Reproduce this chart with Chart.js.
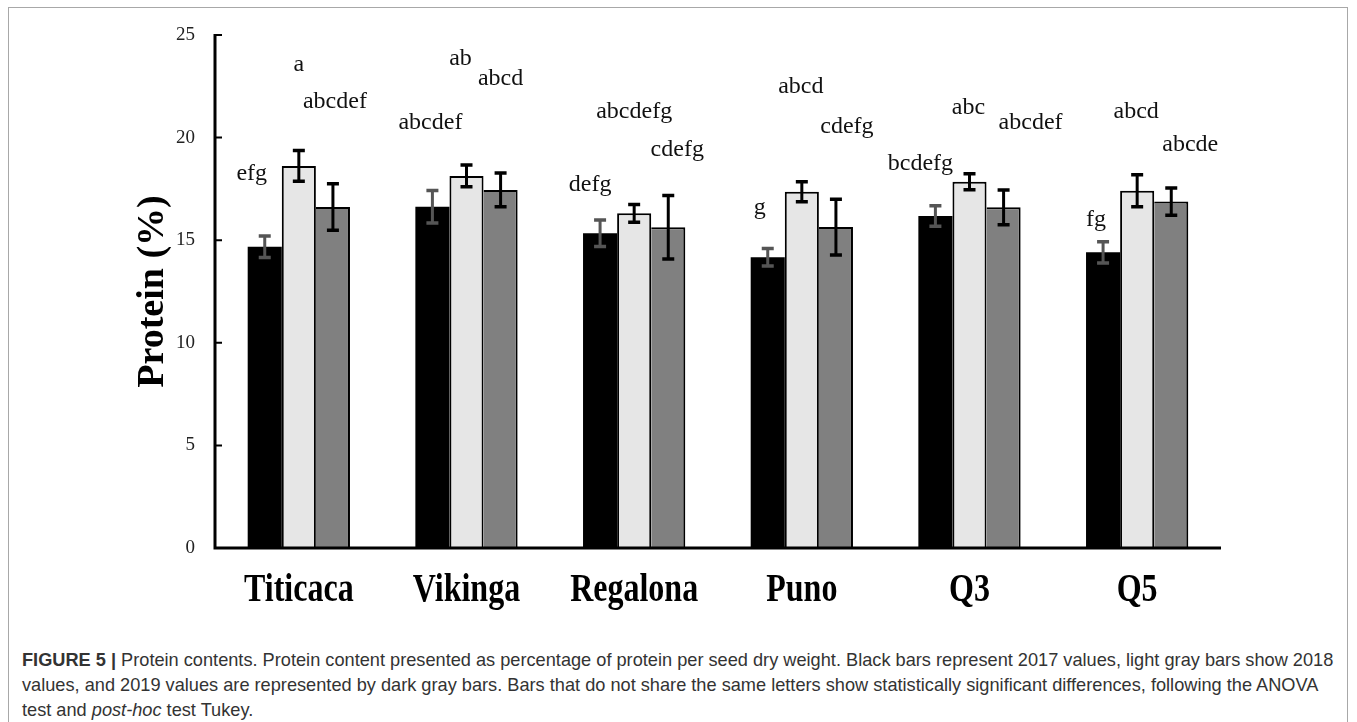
<!DOCTYPE html>
<html>
<head>
<meta charset="utf-8">
<script src="https://cdn.jsdelivr.net/npm/chart.js@4.4.1/dist/chart.umd.min.js"></script>
<style>
  html, body { margin: 0; padding: 0; background: #fff; }
  body { width: 1357px; height: 722px; position: relative; overflow: hidden; }
  #frame { position: absolute; left: 8px; top: 7px; width: 1340px; height: 740px; border: 1px solid #a8a8a8; box-sizing: border-box; }
  #chartWrap { position: absolute; left: 0; top: 0; width: 1357px; height: 630px; }
  #caption { position: absolute; left: 22px; top: 648px; font-family: "Liberation Sans", Arial, sans-serif; color: #333; line-height: 25px; }
  #caption div { white-space: nowrap; }
</style>
</head>
<body>
<div id="frame"></div>
<div id="chartWrap"><canvas id="c" width="1357" height="630"></canvas></div>
<div id="caption">
  <div id="cap1"><b>FIGURE 5 |</b> Protein contents. Protein content presented as percentage of protein per seed dry weight. Black bars represent 2017 values, light gray bars show 2018</div>
  <div>values, and 2019 values are represented by dark gray bars. Bars that do not share the same letters show statistically significant differences, following the ANOVA</div>
  <div>test and <i>post-hoc</i> test Tukey.</div>
</div>
<script>
// ---- data ----
const categories = ['Titicaca', 'Vikinga', 'Regalona', 'Puno', 'Q3', 'Q5'];
const yTicks = [0, 5, 10, 15, 20, 25];
const protein2017 = [14.68, 16.63, 15.34, 14.17, 16.18, 14.41];
const protein2018 = [18.62, 18.13, 16.31, 17.36, 17.85, 17.41];
const protein2019 = [16.62, 17.45, 15.63, 15.64, 16.60, 16.88];
const err2017 = [0.52, 0.79, 0.65, 0.43, 0.50, 0.52];
const err2018 = [0.75, 0.53, 0.43, 0.49, 0.39, 0.78];
const err2019 = [1.13, 0.82, 1.55, 1.36, 0.85, 0.66];
const letters2017 = ['efg', 'abcdef', 'defg', 'g', 'bcdefg', 'fg'];
const letters2018 = ['a', 'ab', 'abcdefg', 'abcd', 'abc', 'abcd'];
const letters2019 = ['abcdef', 'abcd', 'cdefg', 'cdefg', 'abcdef', 'abcde'];
const letterY2017 = [18.23, 20.71, 17.69, 16.57, 18.71, 15.98];
const letterY2018 = [23.54, 23.83, 21.25, 22.47, 21.44, 21.25];
const letterY2019 = [21.73, 22.86, 19.40, 20.52, 20.71, 19.64];

// ---- layout / style (not data) ----
const letterDx = [
  [-13, -2, -10, -8, -15, -7],
  [0, -6, 0, -1, -1, -1],
  [2, 0, 9, 11, 27, 19]
];
const errSets = [err2017, err2018, err2019];
const letterSets = [letters2017, letters2018, letters2019];
const letterYSets = [letterY2017, letterY2018, letterY2019];
const errColors = ['#555555', '#000000', '#000000'];
const SERIF = '"Liberation Serif", "Times New Roman", serif';

const overlay = {
  id: 'overlay',
  afterDatasetsDraw(chart) {
    const ctx = chart.ctx;
    const ys = chart.scales.y;
    const xs = chart.scales.x;
    const area = chart.chartArea;
    ctx.save();
    // error bars
    errSets.forEach((errs, di) => {
      const meta = chart.getDatasetMeta(di);
      meta.data.forEach((bar, i) => {
        const v = chart.data.datasets[di].data[i];
        const x = bar.x;
        const yT = ys.getPixelForValue(v + errs[i]);
        const yB = ys.getPixelForValue(v - errs[i]);
        ctx.strokeStyle = errColors[di];
        ctx.lineWidth = 3;
        ctx.beginPath();
        ctx.moveTo(x, yT); ctx.lineTo(x, yB);
        ctx.stroke();
        ctx.lineWidth = 3.5;
        ctx.beginPath();
        ctx.moveTo(x - 6, yT); ctx.lineTo(x + 6, yT);
        ctx.moveTo(x - 6, yB); ctx.lineTo(x + 6, yB);
        ctx.stroke();
      });
    });
    // letters
    ctx.fillStyle = '#111';
    ctx.font = '24px ' + SERIF;
    ctx.textAlign = 'center';
    ctx.textBaseline = 'middle';
    letterSets.forEach((letters, di) => {
      const meta = chart.getDatasetMeta(di);
      meta.data.forEach((bar, i) => {
        ctx.fillText(letters[i], bar.x + letterDx[di][i], ys.getPixelForValue(letterYSets[di][i]));
      });
    });
    // category labels (tall, condensed look)
    ctx.fillStyle = '#000';
    ctx.font = 'bold 32px ' + SERIF;
    ctx.textAlign = 'center';
    ctx.textBaseline = 'alphabetic';
    categories.forEach((c, i) => {
      ctx.save();
      ctx.translate(xs.getPixelForTick(i), area.bottom + 53);
      ctx.scale(1, 1.25);
      ctx.fillText(c, 0, 0);
      ctx.restore();
    });
    // axes
    ctx.strokeStyle = '#000';
    ctx.lineWidth = 3;
    const y0 = ys.getPixelForValue(0);
    const yMax = ys.getPixelForValue(25);
    ctx.beginPath();
    ctx.moveTo(area.left, yMax - 1); ctx.lineTo(area.left, y0);
    ctx.moveTo(area.left - 1.5, y0); ctx.lineTo(area.right, y0);
    ctx.stroke();
    ctx.lineWidth = 2;
    ctx.beginPath();
    yTicks.forEach(t => {
      const py = ys.getPixelForValue(t);
      ctx.moveTo(area.left, py); ctx.lineTo(area.left + 7, py);
    });
    ctx.stroke();
    ctx.restore();
  }
};

new Chart(document.getElementById('c'), {
  type: 'bar',
  data: {
    labels: categories,
    datasets: [
      { label: '2017', data: protein2017, backgroundColor: '#000000', borderColor: '#000000', borderWidth: 0 },
      { label: '2018', data: protein2018, backgroundColor: '#e6e6e6', borderColor: '#000000', borderWidth: { top: 2, left: 2, right: 2, bottom: 0 } },
      { label: '2019', data: protein2019, backgroundColor: '#808080', borderColor: '#000000', borderWidth: { top: 2, left: 0, right: 2, bottom: 0 } }
    ]
  },
  options: {
    responsive: false,
    devicePixelRatio: 1,
    animation: false,
    layout: { padding: { top: 35, right: 136, left: 0, bottom: 0 } },
    datasets: { bar: { categoryPercentage: 0.61, barPercentage: 1.0, borderSkipped: false } },
    plugins: { legend: { display: false }, tooltip: { enabled: false } },
    scales: {
      x: {
        grid: { display: false },
        border: { display: false },
        ticks: { display: false },
        afterFit: (s) => { s.height = 82; }
      },
      y: {
        min: 0, max: 25,
        afterBuildTicks: (s) => { s.ticks = yTicks.map(v => ({ value: v })); },
        grid: { display: false },
        border: { display: false },
        ticks: {
          color: '#222',
          padding: 12,
          font: { family: SERIF, size: 19 }
        },
        title: {
          display: true,
          text: 'Protein (%)',
          color: '#000',
          padding: { top: 130, bottom: 0 },
          font: { family: SERIF, size: 38, weight: 'bold' }
        },
        afterFit: (s) => { s.width = 215; }
      }
    }
  },
  plugins: [overlay]
});

// fit caption font so first line spans the reference width
(function () {
  const cap = document.getElementById('caption');
  const line1 = document.getElementById('cap1');
  let size = 16;
  cap.style.fontSize = size + 'px';
  const w = line1.getBoundingClientRect().width;
  size = size * 1312 / w;
  cap.style.fontSize = size.toFixed(2) + 'px';
})();
</script>
</body>
</html>
